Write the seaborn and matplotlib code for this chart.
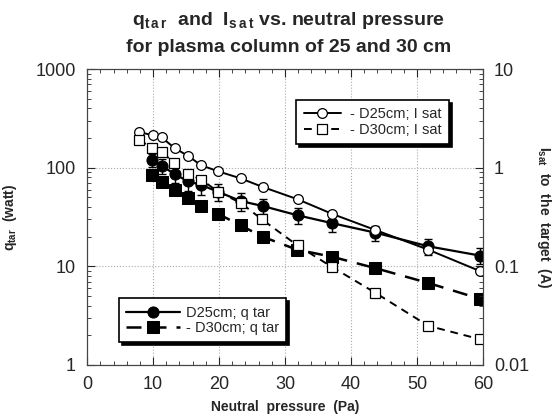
import matplotlib
matplotlib.use("Agg")
import matplotlib.pyplot as plt
import seaborn as sns
import numpy as np
from matplotlib.ticker import FixedLocator, FixedFormatter, MultipleLocator, LogLocator, NullFormatter

# ---- data ----
p_isat25 = [7.9, 10.0, 11.3, 13.3, 15.3, 17.3, 19.9, 23.3, 26.6, 31.9, 37.2, 43.7, 51.7, 59.5]
isat25 = [2.31, 2.13, 2.03, 1.58, 1.32, 1.06, 0.92, 0.78, 0.64, 0.48, 0.34, 0.234, 0.148, 0.090]

p_isat30 = [7.9, 9.9, 11.4, 13.2, 15.3, 17.3, 19.9, 23.3, 26.5, 31.9, 37.2, 43.7, 51.7, 59.5]
isat30 = [1.92, 1.58, 1.43, 1.12, 0.87, 0.76, 0.57, 0.44, 0.30, 0.163, 0.098, 0.054, 0.025, 0.0183]

p_q25 = [9.8, 11.3, 13.3, 15.3, 17.3, 19.9, 23.3, 26.6, 31.9, 37.2, 43.7, 51.7, 59.5]
q25 = [120, 105, 86, 73, 67, 57, 46, 41, 33, 27.4, 22, 16, 12.9]
q25_relerr = [0.15, 0.18, 0.18, 0.2, 0.2, 0.2, 0.2, 0.18, 0.18, 0.18, 0.18, 0.18, 0.18]

p_q30 = [9.8, 11.3, 13.3, 15.3, 17.3, 19.9, 23.3, 26.6, 31.8, 37.2, 43.7, 51.7, 59.5]
q30 = [84, 71, 60, 49, 41, 34, 26, 20, 14.8, 12.5, 9.6, 6.8, 4.7]

labels = ["- D25cm; I sat", "- D30cm; I sat", "D25cm; q tar", "- D30cm; q tar"]

# ---- style ----
sns.set_style("ticks")
plt.rcParams['font.family'] = ['Liberation Sans', 'DejaVu Sans']
plt.rcParams['mathtext.default'] = 'regular'

fig = plt.figure(figsize=(5.55, 4.16), dpi=100)
ax = fig.add_axes([0.157, 0.1226, 0.713, 0.711])
ax2 = ax.twinx()

# q_tar series on left axis
sns.lineplot(x=p_q25, y=q25, ax=ax, color='black', linewidth=1.6, linestyle='-',
             marker='o', markersize=8, markerfacecolor='black', markeredgecolor='black',
             label=labels[2], legend=False)
q25a = np.array(q25)
err = q25a * np.array(q25_relerr)
ax.errorbar(p_q25, q25, yerr=err, fmt='none', ecolor='black', elinewidth=1.0, capsize=3, capthick=1.0)
sns.lineplot(x=p_q30, y=q30, ax=ax, color='black', linewidth=1.8, linestyle=(0, (6, 4)),
             marker='s', markersize=8, markerfacecolor='black', markeredgecolor='black',
             label=labels[3], legend=False)

# I_sat series on right axis
sns.lineplot(x=p_isat25, y=isat25, ax=ax2, color='black', linewidth=1.4, linestyle='-',
             marker='o', markersize=7, markerfacecolor='white', markeredgecolor='black',
             markeredgewidth=0.9, label=labels[0], legend=False)
sns.lineplot(x=p_isat30, y=isat30, ax=ax2, color='black', linewidth=1.4, linestyle=(0, (4, 3)),
             marker='s', markersize=7, markerfacecolor='white', markeredgecolor='black',
             markeredgewidth=0.9, label=labels[1], legend=False)

# axes scales
ax.set_yscale('log')
ax2.set_yscale('log')
ax.set_xlim(0, 60)
ax.set_ylim(1, 1000)
ax2.set_ylim(0.01, 10)

ax.xaxis.set_major_locator(MultipleLocator(10))
ax.xaxis.set_minor_locator(MultipleLocator(2))
ax.yaxis.set_major_locator(FixedLocator([1, 10, 100, 1000]))
ax.yaxis.set_major_formatter(FixedFormatter(["1", "10", "100", "1000"]))
ax.yaxis.set_minor_locator(LogLocator(base=10, subs=np.arange(2, 10)))
ax.yaxis.set_minor_formatter(NullFormatter())
ax2.yaxis.set_major_locator(FixedLocator([0.01, 0.1, 1, 10]))
ax2.yaxis.set_major_formatter(FixedFormatter(["0.01", "0.1", "1", "10"]))
ax2.yaxis.set_minor_locator(LogLocator(base=10, subs=np.arange(2, 10)))
ax2.yaxis.set_minor_formatter(NullFormatter())

for a in (ax, ax2):
    a.tick_params(which='major', direction='in', length=6, width=0.8, labelsize=13, pad=8)
    a.tick_params(which='minor', direction='in', length=3, width=0.6)
    for s in a.spines.values():
        s.set_linewidth(0.8)
        s.set_color('#444444')
ax.tick_params(axis='x', which='both', top=True)
ax.tick_params(axis='y', which='both', right=False)

ax.grid(True, which='major', linestyle=':', color='#aaaaaa', linewidth=0.8)

ax.set_xlabel("Neutral  pressure  (Pa)", fontsize=10, fontweight='bold', labelpad=5)
ax.set_ylabel(r"q$_{tar}$  (watt)", fontsize=10, fontweight='bold', labelpad=12)
ax2.set_ylabel(r"I$_{sat}$  to  the  target  (A)", fontsize=10, fontweight='bold',
               rotation=270, labelpad=17)

fig.suptitle(r"q$_{t\,a\,r}$  and  I$_{s\,a\,t}$ vs. neutral pressure" "\n" "for plasma column of 25 and 30 cm",
             fontsize=14, fontweight='bold', x=0.52, y=0.975, linespacing=1.6)

# legends
h1, l1 = ax.get_legend_handles_labels()
h2, l2 = ax2.get_legend_handles_labels()
shadow = {'color': 'black', 'alpha': 1.0}
leg_top = ax2.legend(h2, l2, loc='upper left', bbox_to_anchor=(0.51, 0.92), fontsize=10.5,
                     frameon=True, fancybox=False, shadow=shadow, edgecolor='black',
                     framealpha=1, handlelength=2.6, borderpad=0.5, labelspacing=0.1,
                     handletextpad=0.6)
leg_top.get_frame().set_linewidth(1.2)
ax2.add_artist(leg_top)
leg_bot = ax2.legend(h1, l1, loc='upper left', bbox_to_anchor=(0.062, 0.25), fontsize=10.5,
                     frameon=True, fancybox=False, shadow=shadow, edgecolor='black',
                     framealpha=1, handlelength=3.7, borderpad=0.5, labelspacing=0.1,
                     handletextpad=0.4)
leg_bot.get_frame().set_linewidth(1.2)

fig.savefig("out.png", dpi=100)
